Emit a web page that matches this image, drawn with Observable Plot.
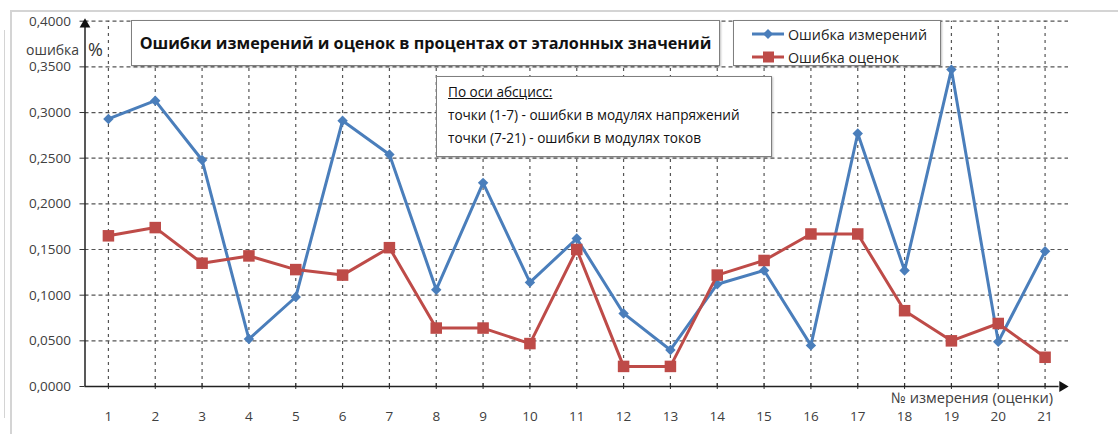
<!DOCTYPE html>
<html><head><meta charset="utf-8">
<script src="https://cdn.jsdelivr.net/npm/d3@7"></script>
<script src="https://cdn.jsdelivr.net/npm/@observablehq/plot@0.6"></script>
<style>
body{margin:0;background:#fff;font-family:"Open Sans",sans-serif;color:#404040;}
#wrap{position:relative;width:1118px;height:434px;overflow:hidden;background:#fff;}
#chart{position:absolute;left:0;top:0;}
.frame{position:absolute;left:10px;top:10px;width:1120px;height:440px;border-top:2px solid #d4d4d4;border-left:2px solid #d4d4d4;box-sizing:border-box;}
.frame2{position:absolute;left:4px;top:30px;width:1px;height:388px;background:#d4d4d4;}
.box{position:absolute;background:#fff;border:1px solid #7f7f7f;box-sizing:border-box;box-shadow:1px 1px 2px rgba(0,0,0,0.25);}
#title{left:131px;top:20px;width:589px;height:46px;font-weight:bold;font-size:16.2px;color:#111;display:flex;align-items:center;justify-content:center;}
#legend{left:733px;top:20px;width:208px;height:46px;font-size:14.3px;color:#222;}
#legend .item{position:absolute;left:18px;display:flex;align-items:center;height:20px;}
#legend svg{margin-right:3px;}
#note{left:436px;top:76px;width:336px;height:81px;font-size:13.6px;color:#111;padding:3px 0 0 11px;line-height:23px;}
#note u{text-decoration:underline;}
.lab{position:absolute;color:#404040;white-space:nowrap;}
</style></head>
<body>
<div id="wrap">
  <div class="frame"></div>
  <div class="frame2"></div>
  <div id="chart"></div>
  <div class="lab" id="ylab" style="left:26px;top:40px;font-size:14px;">ошибка</div>
  <div class="lab" id="pct" style="left:88px;top:37px;font-size:18px;color:#333;">%</div>
  <div class="lab" id="xlab" style="left:891px;top:387px;font-size:14.6px;">№ измерения (оценки)</div>
  <div class="box" id="title">Ошибки измерений и оценок в процентах от эталонных значений</div>
  <div class="box" id="legend"></div>
  <div class="box" id="note"><u>По оси абсцисс:</u><br>точки (1-7) - ошибки в модулях напряжений<br>точки (7-21) - ошибки в модулях токов</div>
</div>
<script>
const measurements = [1,2,3,4,5,6,7,8,9,10,11,12,13,14,15,16,17,18,19,20,21];
const errMeas = [0.293,0.313,0.248,0.052,0.098,0.291,0.254,0.106,0.223,0.114,0.162,0.080,0.040,0.112,0.127,0.045,0.277,0.127,0.347,0.049,0.148];
const errEst  = [0.165,0.174,0.135,0.143,0.128,0.122,0.152,0.064,0.064,0.047,0.150,0.022,0.022,0.122,0.138,0.167,0.167,0.083,0.050,0.069,0.032];
const yTicks = [0,0.05,0.1,0.15,0.2,0.25,0.3,0.35,0.4];
const seriesNames = ["Ошибка измерений","Ошибка оценок"];
const seriesColors = ["#4a7ebb","#be4b48"];

const rows = measurements.map((m,i)=>({m, meas: errMeas[i], est: errEst[i]}));

const chart = Plot.plot({
  width:1118, height:434,
  marginLeft:84.5, marginRight:50, marginTop:20.7, marginBottom:48,
  x:{type:"linear", domain:[0.5,21.5], axis:null},
  y:{domain:[0,0.4], axis:null},
  style:{fontFamily:"'Open Sans',sans-serif", fontSize:"13px", color:"#404040", background:"transparent"},
  marks:[
    Plot.ruleY(yTicks.filter(d=>d>0), {stroke:"#555", strokeDasharray:"4,3", strokeWidth:1.2}),
    Plot.ruleX(measurements, {y1:()=>0, y2:()=>0.4, stroke:"#555", strokeDasharray:"3,4", strokeWidth:1.2}),
    Plot.ruleX(measurements, {y1:()=>0, y2:()=>0, insetTop:-3, insetBottom:-3, stroke:"#333"}),
    Plot.ruleY(yTicks, {x1:()=>0.5, x2:()=>0.5, insetLeft:-5, stroke:"#333"}),
    Plot.text(yTicks, {x:()=>0.5, y:d=>d, dx:-14, textAnchor:"end", text:d=>d.toFixed(4).replace(".",","), fill:"#404040", fontSize:13.5}),
    Plot.text(measurements, {x:d=>d, y:()=>0, dy:30, text:d=>String(d), fill:"#404040", fontSize:13.5}),
    Plot.ruleY([0], {x1:()=>0.5, x2:()=>21.3, stroke:"#222", strokeWidth:1.5}),
    Plot.ruleX([0.5], {y1:()=>0, y2:()=>0.395, stroke:"#222", strokeWidth:1.5}),
    Plot.dot([0], {x:()=>0.5, y:()=>0.3964, symbol:"triangle", r:4, fill:"#111", stroke:null}),
    Plot.dot([0], {x:()=>21.37, y:()=>0, symbol:"triangle", r:4, rotate:90, fill:"#111", stroke:null}),
    Plot.line(rows, {x:"m", y:"meas", stroke:seriesColors[0], strokeWidth:3}),
    Plot.dot(rows, {x:"m", y:"meas", symbol:"diamond2", r:4.7, fill:seriesColors[0], stroke:null}),
    Plot.line(rows, {x:"m", y:"est", stroke:seriesColors[1], strokeWidth:3}),
    Plot.dot(rows, {x:"m", y:"est", symbol:"square", r:6.5, fill:seriesColors[1], stroke:null})
  ]
});
document.getElementById("chart").appendChild(chart);

// legend
const legend = document.getElementById("legend");
const symbols = [
  '<polygon points="16,3 21,8 16,13 11,8" />',
  '<rect x="11" y="2.5" width="11" height="11" />'
];
seriesNames.forEach((name,i)=>{
  const item = document.createElement("div");
  item.className = "item";
  item.style.top = (i===0 ? 3 : 26) + "px";
  item.innerHTML = `<svg width="33" height="16"><line x1="0" y1="8" x2="32" y2="8" stroke="${seriesColors[i]}" stroke-width="3"/><g fill="${seriesColors[i]}">${symbols[i]}</g></svg><span>${name}</span>`;
  legend.appendChild(item);
});
</script>
</body></html>
